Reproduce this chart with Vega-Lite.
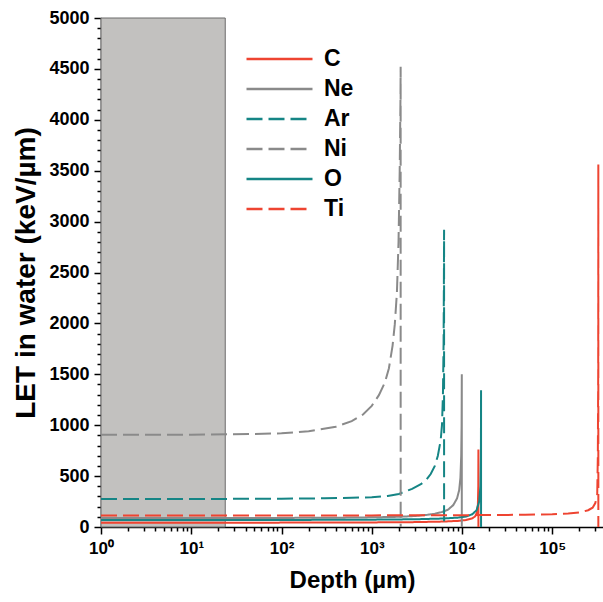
{
  "$schema": "https://vega.github.io/schema/vega-lite/v6.json",
  "width": 502,
  "height": 509,
  "autosize": {"type": "none"},
  "padding": {"left": 101, "top": 18, "right": 0, "bottom": 75},
  "background": "white",
  "view": {"stroke": null},
  "config": {
    "font": "Liberation Sans",
    "axis": {"domainColor": "black", "tickColor": "black", "domainWidth": 1.5, "tickWidth": 1.5, "labelFont": "Liberation Sans", "labelFontWeight": "bold", "labelColor": "black", "titleFont": "Liberation Sans", "titleFontWeight": "bold", "titleColor": "black", "grid": false, "labelOverlap": false}
  },
  "datasets": {
    "shade": [{"x1": 1, "x2": 23.8, "y1": 0, "y2": 5000}],
    "curves": [
      {"ion": "C", "d": 1, "v": 42}, {"ion": "C", "d": 10, "v": 42}, {"ion": "C", "d": 100, "v": 43}, {"ion": "C", "d": 1000, "v": 45}, {"ion": "C", "d": 3000, "v": 48}, {"ion": "C", "d": 6000, "v": 53}, {"ion": "C", "d": 9000, "v": 60}, {"ion": "C", "d": 11000, "v": 68}, {"ion": "C", "d": 13000, "v": 85}, {"ion": "C", "d": 14000, "v": 105}, {"ion": "C", "d": 14600, "v": 140}, {"ion": "C", "d": 15000, "v": 220}, {"ion": "C", "d": 15150, "v": 400}, {"ion": "C", "d": 15200, "v": 762}, {"ion": "C", "d": 15201, "v": 0},
      {"ion": "Ne", "d": 1, "v": 88}, {"ion": "Ne", "d": 10, "v": 88}, {"ion": "Ne", "d": 100, "v": 89}, {"ion": "Ne", "d": 500, "v": 92}, {"ion": "Ne", "d": 1000, "v": 95}, {"ion": "Ne", "d": 2000, "v": 100}, {"ion": "Ne", "d": 3000, "v": 108}, {"ion": "Ne", "d": 4000, "v": 118}, {"ion": "Ne", "d": 5000, "v": 130}, {"ion": "Ne", "d": 6000, "v": 147}, {"ion": "Ne", "d": 7000, "v": 170}, {"ion": "Ne", "d": 8000, "v": 215}, {"ion": "Ne", "d": 8800, "v": 280}, {"ion": "Ne", "d": 9300, "v": 360}, {"ion": "Ne", "d": 9600, "v": 480}, {"ion": "Ne", "d": 9800, "v": 700}, {"ion": "Ne", "d": 9900, "v": 1000}, {"ion": "Ne", "d": 9950, "v": 1500}, {"ion": "Ne", "d": 9951, "v": 0},
      {"ion": "Ar", "d": 1, "v": 275}, {"ion": "Ar", "d": 10, "v": 275}, {"ion": "Ar", "d": 100, "v": 278}, {"ion": "Ar", "d": 300, "v": 282}, {"ion": "Ar", "d": 600, "v": 287}, {"ion": "Ar", "d": 1000, "v": 292}, {"ion": "Ar", "d": 1500, "v": 305}, {"ion": "Ar", "d": 2000, "v": 325}, {"ion": "Ar", "d": 2800, "v": 375}, {"ion": "Ar", "d": 3500, "v": 420}, {"ion": "Ar", "d": 4000, "v": 460}, {"ion": "Ar", "d": 4500, "v": 520}, {"ion": "Ar", "d": 5000, "v": 600}, {"ion": "Ar", "d": 5400, "v": 700}, {"ion": "Ar", "d": 5800, "v": 850}, {"ion": "Ar", "d": 6000, "v": 1000}, {"ion": "Ar", "d": 6150, "v": 1300}, {"ion": "Ar", "d": 6250, "v": 1800}, {"ion": "Ar", "d": 6300, "v": 2400}, {"ion": "Ar", "d": 6330, "v": 2920}, {"ion": "Ar", "d": 6331, "v": 0},
      {"ion": "Ni", "d": 1, "v": 905}, {"ion": "Ni", "d": 10, "v": 907}, {"ion": "Ni", "d": 50, "v": 913}, {"ion": "Ni", "d": 100, "v": 920}, {"ion": "Ni", "d": 200, "v": 940}, {"ion": "Ni", "d": 400, "v": 985}, {"ion": "Ni", "d": 600, "v": 1040}, {"ion": "Ni", "d": 800, "v": 1105}, {"ion": "Ni", "d": 1000, "v": 1190}, {"ion": "Ni", "d": 1200, "v": 1295}, {"ion": "Ni", "d": 1400, "v": 1420}, {"ion": "Ni", "d": 1550, "v": 1560}, {"ion": "Ni", "d": 1700, "v": 1780}, {"ion": "Ni", "d": 1800, "v": 1990}, {"ion": "Ni", "d": 1900, "v": 2300}, {"ion": "Ni", "d": 1980, "v": 2800}, {"ion": "Ni", "d": 2040, "v": 3500}, {"ion": "Ni", "d": 2080, "v": 4200}, {"ion": "Ni", "d": 2090, "v": 4520}, {"ion": "Ni", "d": 2091, "v": 0},
      {"ion": "O", "d": 1, "v": 68}, {"ion": "O", "d": 10, "v": 68}, {"ion": "O", "d": 100, "v": 69}, {"ion": "O", "d": 1000, "v": 72}, {"ion": "O", "d": 3000, "v": 76}, {"ion": "O", "d": 6000, "v": 83}, {"ion": "O", "d": 9000, "v": 92}, {"ion": "O", "d": 11000, "v": 102}, {"ion": "O", "d": 13000, "v": 125}, {"ion": "O", "d": 14500, "v": 165}, {"ion": "O", "d": 15500, "v": 250}, {"ion": "O", "d": 16000, "v": 400}, {"ion": "O", "d": 16200, "v": 700}, {"ion": "O", "d": 16260, "v": 1343}, {"ion": "O", "d": 16261, "v": 0},
      {"ion": "Ti", "d": 1, "v": 113}, {"ion": "Ti", "d": 10, "v": 113}, {"ion": "Ti", "d": 100, "v": 113}, {"ion": "Ti", "d": 1000, "v": 114}, {"ion": "Ti", "d": 10000, "v": 116}, {"ion": "Ti", "d": 50000, "v": 120}, {"ion": "Ti", "d": 100000, "v": 126}, {"ion": "Ti", "d": 150000, "v": 133}, {"ion": "Ti", "d": 200000, "v": 142}, {"ion": "Ti", "d": 250000, "v": 165}, {"ion": "Ti", "d": 280000, "v": 190}, {"ion": "Ti", "d": 300000, "v": 235}, {"ion": "Ti", "d": 315000, "v": 320}, {"ion": "Ti", "d": 320000, "v": 700}, {"ion": "Ti", "d": 323000, "v": 1500}, {"ion": "Ti", "d": 324000, "v": 3560}, {"ion": "Ti", "d": 324100, "v": 0}
    ]
  },
  "layer": [
    {
      "data": {"name": "shade"},
      "mark": {"type": "rect", "fill": "#c2c1bf", "stroke": "#6a6a6a", "strokeWidth": 1},
      "encoding": {
        "x": {"field": "x1", "type": "quantitative", "scale": {"type": "log", "domain": [1, 365000]}},
        "x2": {"field": "x2"},
        "y": {"field": "y1", "type": "quantitative"},
        "y2": {"field": "y2"}
      }
    },
    {
      "data": {"name": "curves"},
      "mark": {"type": "line", "strokeWidth": 2, "clip": true},
      "encoding": {
        "x": {
          "field": "d", "type": "quantitative",
          "scale": {"type": "log", "domain": [1, 365000]},
          "axis": {
            "title": "Depth (µm)", "titleFontSize": 24, "titlePadding": 12,
            "values": [1,2,3,4,5,6,7,8,9,10,20,30,40,50,60,70,80,90,100,200,300,400,500,600,700,800,900,1000,2000,3000,4000,5000,6000,7000,8000,9000,10000,20000,30000,40000,50000,60000,70000,80000,90000,100000,200000,300000],
            "tickCount": 1000,
            "labelExpr": "indexof([1,10,100,1000,10000,100000], datum.value) >= 0 ? '10' + ['⁰','¹','²','³','⁴','⁵'][indexof([1,10,100,1000,10000,100000], datum.value)] : ''",
            "labelFontSize": 17, "labelPadding": 6, "labelFlush": false, "labelOverlap": false,
            "tickSize": {"condition": {"test": "indexof([1,10,100,1000,10000,100000], datum.value) >= 0", "value": 7}, "value": 4}
          }
        },
        "y": {
          "field": "v", "type": "quantitative",
          "scale": {"domain": [0, 5000], "nice": false},
          "axis": {
            "title": "LET in water (keV/µm)", "titleFontSize": 28, "titlePadding": 8,
            "values": [0,100,200,300,400,500,600,700,800,900,1000,1100,1200,1300,1400,1500,1600,1700,1800,1900,2000,2100,2200,2300,2400,2500,2600,2700,2800,2900,3000,3100,3200,3300,3400,3500,3600,3700,3800,3900,4000,4100,4200,4300,4400,4500,4600,4700,4800,4900,5000],
            "tickCount": 1000,
            "labelExpr": "datum.value % 500 === 0 ? '' + datum.value : ''",
            "labelFontSize": 18, "labelPadding": 5, "labelOverlap": false, "labelBound": false, "labelFlush": false,
            "tickSize": {"condition": {"test": "datum.value % 500 === 0", "value": 7}, "value": 4}
          }
        },
        "color": {
          "field": "ion", "type": "nominal",
          "scale": {"domain": ["C", "Ne", "Ar", "Ni", "O", "Ti"], "range": ["#ee4431", "#8a8a8a", "#158585", "#8a8a8a", "#158585", "#ee4431"]},
          "legend": {
            "orient": "none", "legendX": 144, "legendY": 29, "title": null,
            "symbolType": "stroke", "symbolSize": 4356, "symbolStrokeWidth": 2.5,
            "labelFontSize": 23, "labelFontWeight": "bold", "labelColor": "black", "labelFont": "Liberation Sans",
            "labelOffset": 10, "rowPadding": 6, "clipHeight": 24
          }
        },
        "strokeDash": {
          "field": "ion", "type": "nominal",
          "scale": {"domain": ["C", "Ne", "Ar", "Ni", "O", "Ti"], "range": [[1, 0], [1, 0], [16, 6], [16, 6], [1, 0], [16, 6]]},
          "legend": {
            "orient": "none", "legendX": 144, "legendY": 29, "title": null,
            "symbolType": "stroke", "symbolSize": 4356, "symbolStrokeWidth": 2.5,
            "labelFontSize": 23, "labelFontWeight": "bold", "labelColor": "black", "labelFont": "Liberation Sans",
            "labelOffset": 10, "rowPadding": 6, "clipHeight": 24
          }
        }
      }
    },
    {
      "mark": {"type": "rule", "color": "black", "strokeWidth": 1.5},
      "encoding": {"y": {"datum": 5000}}
    }
  ]
}
